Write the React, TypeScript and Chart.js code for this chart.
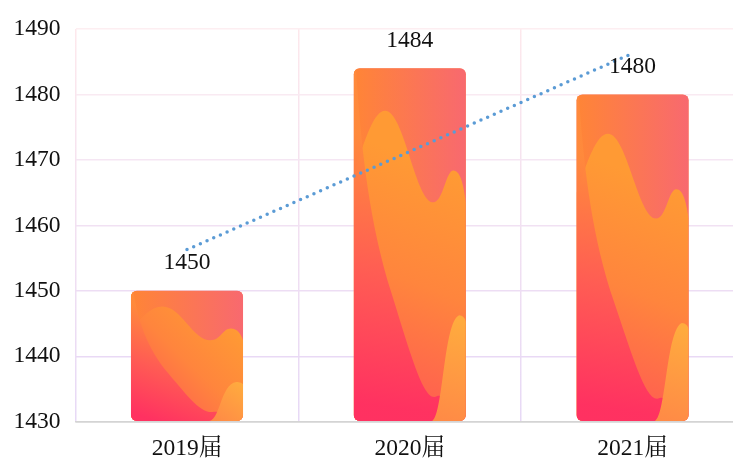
import React, { useEffect, useRef } from "react";
import { Chart, registerables } from "chart.js";

Chart.register(...registerables);

const categories = ["2019届", "2020届", "2021届"];
const barValues = [1450, 1484, 1480];
const trendValues = [1456.3, 1471.3, 1486.3];
const yTicks = [1430, 1440, 1450, 1460, 1470, 1480, 1490];

const FONT = '"Liberation Serif", "Times New Roman", "Noto Serif CJK SC", "Noto Sans CJK SC", serif';
const FS = 23.5;

function mix(a: number[], b: number[], t: number) {
  const c = a.map((v, i) => Math.round(v + (b[i] - v) * t));
  return `rgb(${c[0]},${c[1]},${c[2]})`;
}

const barTexture = {
  id: "barTexture",
  afterDatasetDraw(chart: any, args: any) {
    if (args.index !== 0) return;
    const meta = chart.getDatasetMeta(0);
    const ctx: CanvasRenderingContext2D = chart.ctx;
    const bottom = chart.chartArea.bottom;
    meta.data.forEach((el: any) => {
      const { x, y, base, width } = el.getProps(["x", "y", "base", "width"], true);
      const l = x - width / 2;
      const t = y;
      const w = width;
      const h = Math.min(base, bottom) - y;
      const X = (u: number) => l + u * w;
      const Y = (v: number) => t + v * h;
      ctx.save();
      ctx.beginPath();
      (ctx as any).roundRect(l, t, w, h, 6);
      ctx.clip();
      // base (top layer background)
      let g = ctx.createLinearGradient(l, t, l + w, t);
      g.addColorStop(0, "#ff8536");
      g.addColorStop(1, "#f8696f");
      ctx.fillStyle = g;
      ctx.fillRect(l, t, w, h);
      // wave A (amber)
      ctx.beginPath();
      ctx.moveTo(X(0), Y(0.3));
      ctx.bezierCurveTo(X(0.1), Y(0.2), X(0.18), Y(0.12), X(0.28), Y(0.12));
      ctx.bezierCurveTo(X(0.45), Y(0.12), X(0.55), Y(0.38), X(0.71), Y(0.38));
      ctx.bezierCurveTo(X(0.8), Y(0.38), X(0.82), Y(0.29), X(0.89), Y(0.29));
      ctx.bezierCurveTo(X(0.95), Y(0.29), X(0.98), Y(0.33), X(1), Y(0.38));
      ctx.lineTo(X(1), Y(1));
      ctx.lineTo(X(0), Y(1));
      ctx.closePath();
      g = ctx.createLinearGradient(X(0.95), Y(0.3), X(0.15), Y(1));
      g.addColorStop(0, "#ff9a34");
      g.addColorStop(0.45, "#ff853d");
      g.addColorStop(1, "#ff5555");
      ctx.fillStyle = g;
      ctx.fill();
      // wave C (pink lower-left)
      ctx.beginPath();
      ctx.moveTo(X(0), Y(0));
      ctx.lineTo(X(0.02), Y(0));
      ctx.bezierCurveTo(X(0.06), Y(0.2), X(0.12), Y(0.4), X(0.3), Y(0.6));
      ctx.bezierCurveTo(X(0.5), Y(0.8), X(0.62), Y(0.95), X(0.74), Y(0.93));
      ctx.bezierCurveTo(X(0.82), Y(0.92), X(0.85), Y(0.97), X(0.88), Y(1));
      ctx.lineTo(X(0), Y(1));
      ctx.closePath();
      g = ctx.createLinearGradient(X(0.05), Y(0.95), X(0.35), Y(0.2));
      g.addColorStop(0, "#ff2e62");
      g.addColorStop(0.5, "#ff5a55");
      g.addColorStop(1, "#ff8a3c");
      ctx.globalAlpha = 0.92;
      ctx.fillStyle = g;
      ctx.fill();
      ctx.globalAlpha = 1;
      // wave B (yellow bump)
      ctx.beginPath();
      ctx.moveTo(X(0.7), Y(1));
      ctx.bezierCurveTo(X(0.8), Y(0.98), X(0.8), Y(0.72), X(0.94), Y(0.7));
      ctx.bezierCurveTo(X(0.97), Y(0.7), X(1), Y(0.71), X(1), Y(0.72));
      ctx.lineTo(X(1), Y(1));
      ctx.closePath();
      g = ctx.createLinearGradient(X(0.75), Y(1), X(1), Y(0.72));
      g.addColorStop(0, "#ff8a46");
      g.addColorStop(1, "#ffab3e");
      ctx.fillStyle = g;
      ctx.fill();
      ctx.restore();
    });
  },
};

const valueLabels = {
  id: "valueLabels",
  afterDraw(chart: any) {
    const meta = chart.getDatasetMeta(0);
    const ctx: CanvasRenderingContext2D = chart.ctx;
    ctx.save();
    ctx.font = `${FS}px ${FONT}`;
    ctx.fillStyle = "#111";
    ctx.textAlign = "center";
    ctx.textBaseline = "middle";
    meta.data.forEach((el: any, i: number) => {
      ctx.fillText(String(barValues[i]), el.x, el.y - 28);
    });
    ctx.restore();
  },
};

export default function App() {
  const ref = useRef<HTMLCanvasElement>(null);
  useEffect(() => {
    if (!ref.current) return;
    const chart = new Chart(ref.current, {
      data: {
        labels: categories,
        datasets: [
          {
            type: "bar",
            data: barValues,
            base: 1430,
            backgroundColor: "#fb7a4f",
            borderRadius: 6,
            borderSkipped: false,
            barPercentage: 0.503,
            categoryPercentage: 1,
            order: 2,
          },
          {
            type: "line",
            data: trendValues,
            borderColor: "#5b9bd5",
            borderWidth: 3.5,
            borderDash: [0, 7.3],
            borderCapStyle: "round",
            pointRadius: 0,
            fill: false,
            order: 1,
          },
        ],
      } as any,
      options: {
        animation: false,
        responsive: false,
        devicePixelRatio: 1,
        layout: { padding: { top: 25, left: 0, right: 0, bottom: 0 } },
        plugins: { legend: { display: false }, tooltip: { enabled: false } },
        scales: {
          x: {
            offset: true,
            grid: {
              offset: true,
              drawTicks: false,
              lineWidth: 1.5,
              color: (c: any) => {
                const a = c.chart.chartArea;
                if (!a) return "#f3e0ee";
                const g = c.chart.ctx.createLinearGradient(0, a.top, 0, a.bottom);
                g.addColorStop(0, "#fde8ec");
                g.addColorStop(1, "#e7d9f6");
                return g;
              },
            },
            border: { display: true, color: "#d4d4d4", width: 1.5 },
            ticks: { color: "#111", font: { family: FONT, size: FS }, padding: 13 },
            afterFit: (s: any) => {
              s.height = 40.3;
            },
          },
          y: {
            min: 1430,
            max: 1490,
            afterBuildTicks: (s: any) => {
              s.ticks = yTicks.map((v) => ({ value: v }));
            },
            grid: {
              drawTicks: false,
              lineWidth: 1.5,
              color: (c: any) => {
                const v = c.tick ? c.tick.value : 1460;
                if (v <= 1430) return "#d4d4d4";
                const tt = (1490 - v) / 50;
                return mix([253, 238, 241], [233, 217, 245], Math.min(1, tt));
              },
            },
            border: { display: false },
            ticks: {
              color: "#111",
              font: { family: FONT, size: FS },
              padding: 15,
              callback: (v: any) => String(v),
            },
            afterFit: (s: any) => {
              s.width = 75.6;
            },
          },
        },
      } as any,
      plugins: [barTexture, valueLabels],
    });
    return () => chart.destroy();
  }, []);
  return (
    <div style={{ position: "fixed", left: 0, top: 0, width: 733, height: 462, overflow: "hidden", background: "#fff" }}>
      <canvas ref={ref} width={744} height={462} style={{ display: "block" }} />
    </div>
  );
}
